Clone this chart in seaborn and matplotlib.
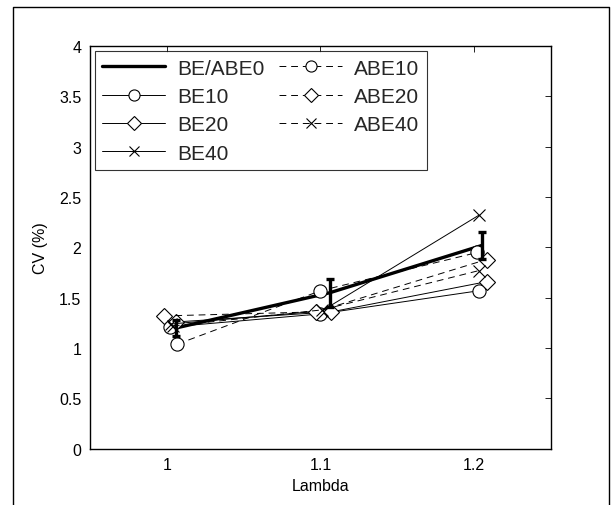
import numpy as np
import pandas as pd
import seaborn as sns
import matplotlib
matplotlib.use("Agg")
import matplotlib.pyplot as plt
from matplotlib.lines import Line2D

lambdas = [1.0, 1.1, 1.2]
tick_labels = ["1", "1.1", "1.2"]

be_abe0 = [1.20, 1.55, 2.02]
be_abe0_err = [0.08, 0.14, 0.13]
be10 = [1.21, 1.34, 1.57]
be20 = [1.26, 1.36, 1.66]
be40 = [1.24, 1.37, 2.32]
abe10 = [1.04, 1.57, 1.95]
abe20 = [1.32, 1.36, 1.88]
abe40 = [1.22, 1.38, 1.77]

# small horizontal shifts of each series around the nominal lambda values
shift_be_abe0 = [0.006, 0.006, 0.005]
shift_be10 = [0.002, 0.0, 0.003]
shift_be20 = [0.006, 0.007, 0.008]
shift_be40 = [0.003, 0.001, 0.003]
shift_abe10 = [0.007, 0.0, 0.002]
shift_abe20 = [-0.002, -0.003, 0.008]
shift_abe40 = [0.004, 0.001, 0.003]

sns.set_theme(style="white")
plt.rcParams["font.family"] = ["Liberation Sans", "DejaVu Sans"]

fig = plt.figure(figsize=(6.11, 5.06), dpi=100)
ax = fig.add_axes([0.147, 0.111, 0.755, 0.796])

dash = (0, (7, 5))
series = [
    ("BE/ABE0", be_abe0, shift_be_abe0, None, "-", 2.4),
    ("BE10", be10, shift_be10, "o", "-", 0.7),
    ("BE20", be20, shift_be20, "D", "-", 0.7),
    ("BE40", be40, shift_be40, "x", "-", 0.7),
    ("ABE10", abe10, shift_abe10, "o", dash, 0.7),
    ("ABE20", abe20, shift_abe20, "D", dash, 0.7),
    ("ABE40", abe40, shift_abe40, "x", dash, 0.7),
]
msize = {"o": 9.5, "D": 8.5, "x": 8}
leg_msize = {"o": 8, "D": 7.5, "x": 6.5}

handles = []
for name, vals, shift, mk, ls, lw in series:
    df = pd.DataFrame({"Lambda": np.array(lambdas) + np.array(shift), "CV": vals})
    kw = dict(color="black", linewidth=lw, linestyle=ls)
    hkw = dict(kw)
    if mk is not None:
        kw.update(marker=mk, markersize=msize[mk], markerfacecolor="white",
                  markeredgecolor="black", markeredgewidth=0.8)
        hkw.update(marker=mk, markersize=leg_msize[mk], markerfacecolor="white",
                   markeredgecolor="black", markeredgewidth=0.8)
    sns.lineplot(data=df, x="Lambda", y="CV", ax=ax, sort=False, **kw)
    handles.append(Line2D([], [], **hkw, label=name))

ax.errorbar(np.array(lambdas) + np.array(shift_be_abe0), be_abe0, yerr=be_abe0_err,
            fmt="none", ecolor="black", elinewidth=2.4, capsize=3, capthick=2.4)

ax.set_xlim(0.95, 1.25)
ax.set_ylim(0, 4)
ax.set_xticks(lambdas)
ax.set_xticklabels(tick_labels)
ax.set_yticks(np.arange(0, 4.01, 0.5))
ax.set_yticklabels(["0", "0.5", "1", "1.5", "2", "2.5", "3", "3.5", "4"])
ax.tick_params(direction="in", length=4, width=0.6, top=True, right=True,
               labelsize=11.5, colors="black", pad=6)
for s in ax.spines.values():
    s.set_visible(True)
    s.set_color("black")
    s.set_linewidth(1.0)
ax.set_xlabel("Lambda", fontsize=11.5, color="black", labelpad=4)
ax.set_ylabel("CV (%)", fontsize=11.5, color="black", labelpad=8)

leg = ax.legend(handles=handles, ncol=2, loc="upper left", bbox_to_anchor=(0.0, 1.0),
                fontsize=15, frameon=True, fancybox=False, edgecolor="black",
                handlelength=3.0, columnspacing=0.7, labelspacing=0.45,
                handletextpad=0.6, borderpad=0.35, borderaxespad=0.25)
leg.get_frame().set_linewidth(0.8)

# outer frame around the figure
fx = [13 / 611, 13 / 611, 609 / 611, 609 / 611]
fy = [0.0, 1 - 8 / 506, 1 - 8 / 506, 0.0]
fig.add_artist(Line2D(fx, fy, transform=fig.transFigure, color="black", linewidth=1.0))

fig.savefig("out.png", dpi=100)
